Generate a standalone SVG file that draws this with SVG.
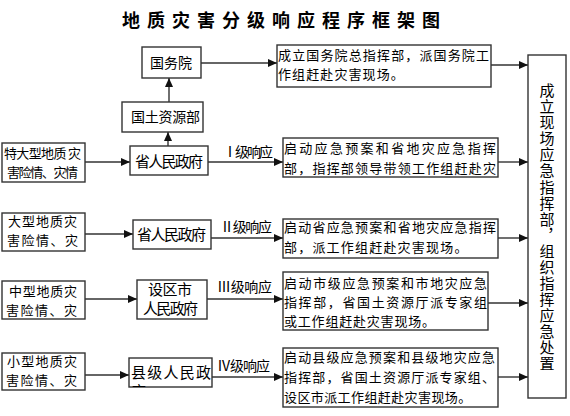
<svg xmlns="http://www.w3.org/2000/svg" width="570" height="416" viewBox="0 0 570 416">
<defs>
<style>
text{font-family:"Noto Sans CJK SC","Noto Sans",sans-serif;fill:#000;}
.box{fill:#fff;stroke:#333;stroke-width:1.4;}
.ln{stroke:#333;stroke-width:1.4;fill:none;marker-end:url(#ah);}
.t13{font-size:13px;}
.t14{font-size:14px;}
.t15{font-size:15px;}
.title{font-size:18px;font-weight:bold;}
.vert{writing-mode:vertical-rl;text-orientation:upright;}
</style>
<marker id="ah" markerUnits="userSpaceOnUse" markerWidth="9" markerHeight="8" refX="9" refY="4" orient="auto">
<path d="M0,0 L9,4 L0,8 z" fill="#111"/>
</marker>
<clipPath id="clipM4"><rect x="129" y="358" width="83" height="29"/></clipPath>
</defs>
<rect width="570" height="416" fill="#fff"/>
<text class="title" x="122" y="27" textLength="318" lengthAdjust="spacing">地质灾害分级响应程序框架图</text>

<g id="connectors">
<line class="ln" x1="201" y1="63" x2="277" y2="63"/>
<line class="ln" x1="491" y1="65" x2="528" y2="65"/>
<line class="ln" x1="169" y1="102" x2="169" y2="78"/>
<line class="ln" x1="168" y1="146" x2="168" y2="132"/>
<line class="ln" x1="85" y1="162" x2="130" y2="162"/>
<line class="ln" x1="85" y1="234" x2="133" y2="234"/>
<line class="ln" x1="85" y1="299" x2="137" y2="299"/>
<line class="ln" x1="85" y1="375" x2="129" y2="375"/>
<line class="ln" x1="208" y1="162" x2="283" y2="162"/>
<line class="ln" x1="211" y1="238" x2="283" y2="238"/>
<line class="ln" x1="207" y1="299" x2="283" y2="299"/>
<line class="ln" x1="212" y1="377" x2="283" y2="377"/>
<line class="ln" x1="498" y1="162" x2="528" y2="162"/>
<line class="ln" x1="498" y1="238" x2="528" y2="238"/>
<line class="ln" x1="488" y1="303" x2="528" y2="303"/>
<line class="ln" x1="498" y1="377" x2="528" y2="377"/>
<text class="t14" x="223" y="157" textLength="50" lengthAdjust="spacing">Ⅰ级响应</text>
<text class="t14" x="220" y="232" textLength="52" lengthAdjust="spacing">Ⅱ级响应</text>
<text class="t14" x="217" y="292" textLength="55" lengthAdjust="spacing">Ⅲ级响应</text>
<text class="t14" x="217" y="371" textLength="53" lengthAdjust="spacing">Ⅳ级响应</text>
</g>

<g id="n_guowuyuan">
<rect class="box" x="142" y="47" width="59" height="31"/>
<text class="t14" x="150" y="68" textLength="42" lengthAdjust="spacing">国务院</text>
</g>
<g id="n_guotu">
<rect class="box" x="122" y="102" width="81" height="30"/>
<text class="t14" x="131" y="122" textLength="69" lengthAdjust="spacing">国土资源部</text>
</g>
<g id="n_top_action">
<rect class="box" x="277" y="45" width="214" height="42"/>
<text class="t13" x="278" y="60" textLength="211" lengthAdjust="spacing">成立国务院总指挥部，派国务院工</text>
<text class="t13" x="278" y="79" letter-spacing="1.1">作组赶赴灾害现场。</text>
</g>
<g id="n_final">
<rect class="box" x="528" y="55" width="38" height="343"/>
<text class="t15 vert" x="547" y="83" letter-spacing="1.06">成立现场应急指挥部，组织指挥应急处置</text>
</g>

<g id="n_src1">
<rect class="box" x="2" y="143" width="83" height="39"/>
<text class="t13" x="4" y="158" textLength="77" lengthAdjust="spacing">特大型地质 灾</text>
<text class="t13" x="7" y="177" textLength="71" lengthAdjust="spacing">害险情、灾情</text>
</g>
<g id="n_gov1">
<rect class="box" x="130" y="146" width="78" height="29"/>
<text class="t15" x="135" y="167" textLength="68" lengthAdjust="spacing">省人民政府</text>
</g>
<g id="n_act1">
<rect class="box" x="283" y="138" width="215" height="39"/>
<text class="t13" x="284" y="153" textLength="212" lengthAdjust="spacing">启动应急预案和省地灾应急指挥</text>
<text class="t13" x="284" y="173" textLength="212" lengthAdjust="spacing">部，指挥部领导带领工作组赶赴灾</text>
</g>

<g id="n_src2">
<rect class="box" x="2" y="213" width="83" height="38"/>
<text class="t13" x="8" y="226" textLength="69" lengthAdjust="spacing">大型地质灾</text>
<text class="t13" x="7" y="245" textLength="71" lengthAdjust="spacing">害险情、灾</text>
</g>
<g id="n_gov2">
<rect class="box" x="133" y="220" width="78" height="29"/>
<text class="t15" x="137" y="240" textLength="69" lengthAdjust="spacing">省人民政府</text>
</g>
<g id="n_act2">
<rect class="box" x="283" y="219" width="215" height="39"/>
<text class="t13" x="284" y="232" textLength="212" lengthAdjust="spacing">启动省应急预案和省地灾应急指挥</text>
<text class="t13" x="284" y="252" letter-spacing="1.2">部，派工作组赶赴灾害现场。</text>
</g>

<g id="n_src3">
<rect class="box" x="2" y="281" width="83" height="38"/>
<text class="t13" x="9" y="296" textLength="68" lengthAdjust="spacing">中型地质灾</text>
<text class="t13" x="6" y="315" textLength="71" lengthAdjust="spacing">害险情、灾</text>
</g>
<g id="n_gov3">
<rect class="box" x="137" y="280" width="70" height="39"/>
<text class="t15" x="148" y="295" textLength="44" lengthAdjust="spacing">设区市</text>
<text class="t15" x="143" y="314" textLength="55" lengthAdjust="spacing">人民政府</text>
</g>
<g id="n_act3">
<rect class="box" x="283" y="272" width="205" height="58"/>
<text class="t13" x="284" y="288" textLength="203" lengthAdjust="spacing">启动市级应急预案和市地灾应急</text>
<text class="t13" x="284" y="307" textLength="203" lengthAdjust="spacing">指挥部，省国土资源厅派专家组</text>
<text class="t13" x="284" y="326" letter-spacing="0.8">或工作组赶赴灾害现场。</text>
</g>

<g id="n_src4">
<rect class="box" x="2" y="353" width="83" height="37"/>
<text class="t13" x="7" y="366" textLength="70" lengthAdjust="spacing">小型地质灾</text>
<text class="t13" x="6" y="385" textLength="71" lengthAdjust="spacing">害险情、灾</text>
</g>
<g id="n_gov4">
<rect class="box" x="129" y="358" width="83" height="29"/>
<g clip-path="url(#clipM4)">
<text class="t15" x="131" y="378" textLength="80" lengthAdjust="spacing">县级人民政</text>
<text class="t15" x="131" y="397">府</text>
</g>
</g>
<g id="n_act4">
<rect class="box" x="283" y="348" width="215" height="59"/>
<text class="t13" x="284" y="362" textLength="211" lengthAdjust="spacing">启动县级应急预案和县级地灾应急</text>
<text class="t13" x="284" y="382" textLength="211" lengthAdjust="spacing">指挥部，省国土资源厅派专家组、</text>
<text class="t13" x="284" y="402" letter-spacing="0.4">设区市派工作组赶赴灾害现场。</text>
</g>
</svg>
